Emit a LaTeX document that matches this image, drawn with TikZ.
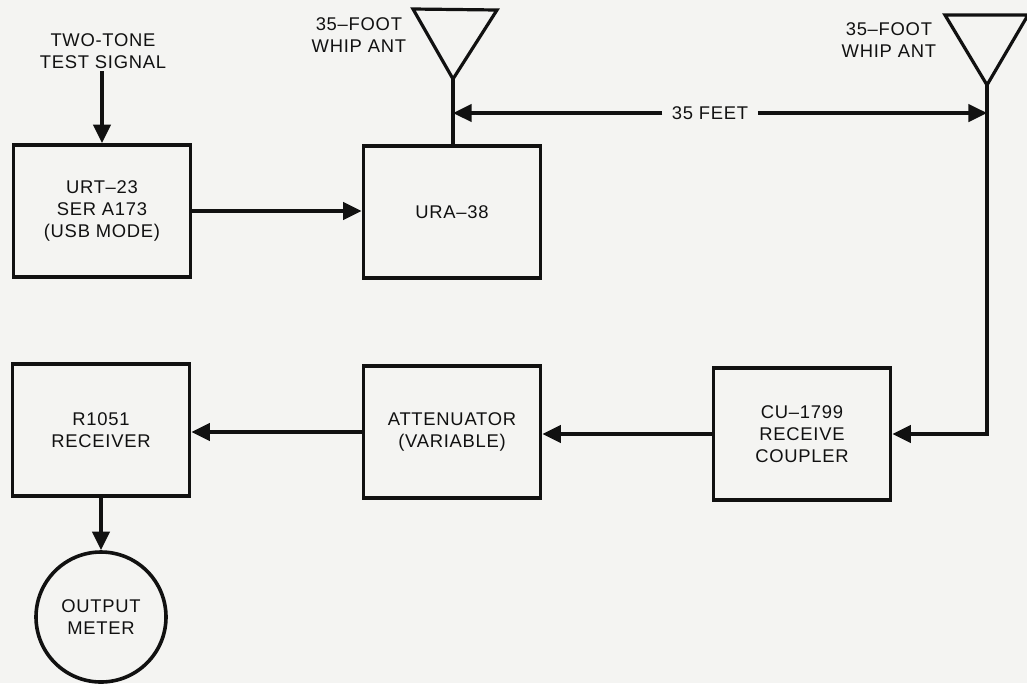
\documentclass[tikz,border=0pt]{standalone}
\usepackage{fontspec}
\setmainfont{Liberation Sans}[LetterSpace=4]
\usetikzlibrary{arrows.meta}
\definecolor{bg}{HTML}{F4F4F2}
\definecolor{ink}{HTML}{111111}
\begin{document}
\begin{tikzpicture}[x=0.75pt,y=-0.75pt,
  every node/.style={font=\fontsize{13.8}{16.5}\selectfont, text=ink, align=center},
  blk/.style={draw=ink, line width=2.7pt, minimum width=132.75pt, minimum height=99pt, inner sep=0pt},
  wire/.style={draw=ink, line width=2.7pt},
  arr/.style={wire, -{Triangle[length=14pt,width=13pt]}},
  ant/.style={draw=ink, line width=2.4pt, line join=miter},
  lbl/.style={inner sep=2pt}]
\path[use as bounding box, fill=bg] (0,0) rectangle (1027,683);

% blocks
\node[blk] (urt) at (102,211) {URT–23\\SER A173\\(USB MODE)};
\node[blk] (ura) at (452,212) {URA–38};
\node[blk] (rcv) at (101,430) {R1051\\RECEIVER};
\node[blk] (att) at (452,432) {ATTENUATOR\\(VARIABLE)};
\node[blk] (cu)  at (802,434) {CU–1799\\RECEIVE\\COUPLER};
\node[draw=ink, line width=2.7pt, circle, minimum size=97.5pt, inner sep=0pt] (meter) at (101,617) {OUTPUT\\METER};

% labels
\node[lbl] (tt) at (103,51) {TWO-TONE\\TEST SIGNAL};
\node[lbl, anchor=east] (w1) at (409,35) {35–FOOT\\WHIP ANT};
\node[lbl, anchor=east] (w2) at (939,40) {35–FOOT\\WHIP ANT};
\node[inner xsep=7pt, inner ysep=2pt] (feet) at (710,113) {35 FEET};

% antennas
\coordinate (a1l) at (413,9);
\coordinate (a1r) at (497,10);
\coordinate (a1) at (453,79);
\coordinate (a2l) at (945,15);
\coordinate (a2r) at (1028,15);
\coordinate (a2) at (987,85);
\draw[ant] (a1l) -- (a1r) -- (a1) -- cycle;
\draw[ant] (a2l) -- (a2r) -- (a2) -- cycle;

% connectors
\draw[arr] (urt.north |- tt.south) -- (urt.north);
\draw[arr] (urt.east) -- (urt.east -| ura.west);
\draw[wire] (a1) -- (a1 |- ura.north);
\draw[arr] (feet.west) -- (feet.west -| a1);
\draw[arr] (feet.east) -- (feet.east -| a2);
\draw[arr] (a2) |- (cu.east);
\draw[arr] (cu.west) -- (cu.west -| att.east);
\draw[arr] (att.west) -- (att.west -| rcv.east);
\draw[arr] (rcv) -- (meter);
\end{tikzpicture}
\end{document}
